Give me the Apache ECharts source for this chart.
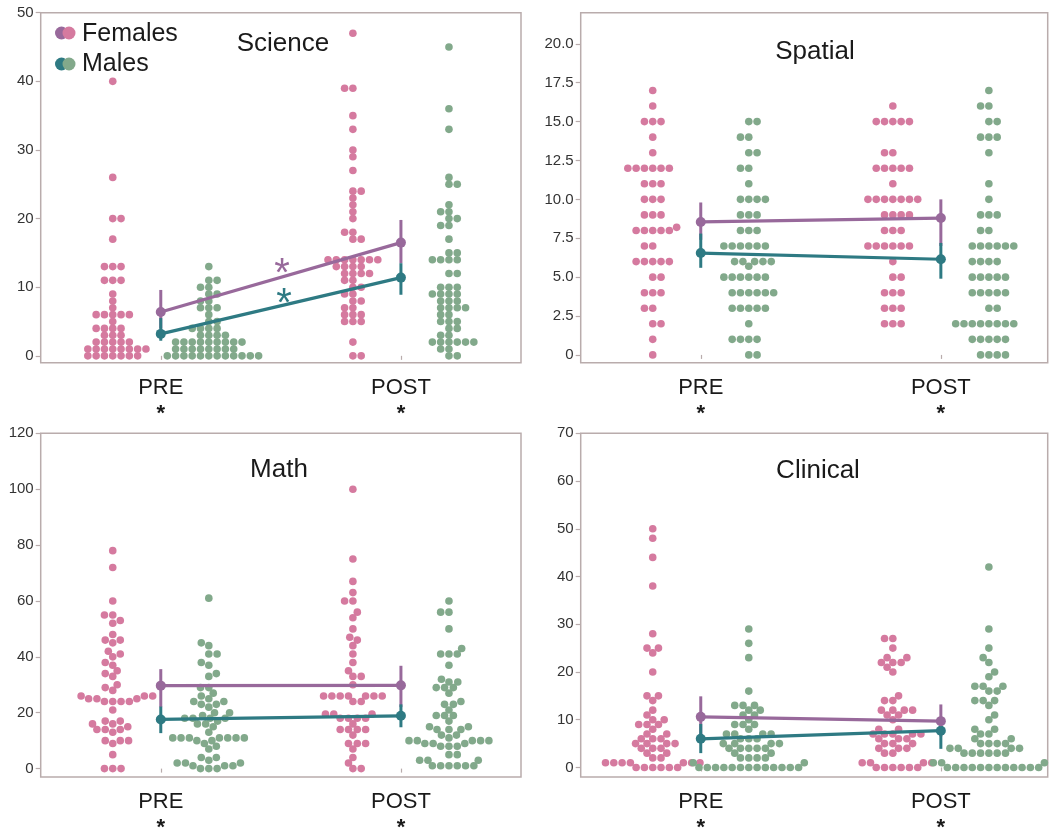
<!DOCTYPE html>
<html><head><meta charset="utf-8">
<script src="https://cdn.jsdelivr.net/npm/echarts@6/dist/echarts.min.js"></script>
<style>html,body{margin:0;padding:0;background:#fff}#c{width:1049px;height:839px}</style>
</head><body><div id="c"></div>
<script>
// ---------- DATA ----------
const timeLabels = ['PRE', 'POST'];
const panelTitles = ['Science', 'Spatial', 'Math', 'Clinical'];
const yMinVals = [-1, -0.5, -3, -2];
const yMaxVals = [50, 22, 120, 70];
const yTickVals = [
  [0, 10, 20, 30, 40, 50],
  [0, 2.5, 5, 7.5, 10, 12.5, 15, 17.5, 20],
  [0, 20, 40, 60, 80, 100, 120],
  [0, 10, 20, 30, 40, 50, 60, 70]
];

// Science
const sciFemPre = [40,26,20,20,17,13,13,13,11,11,11,9,8,7,6,6,6,6,6,5,4,4,4,4,3,3,3,2,2,2,2,2,1,1,1,1,1,1,1,1,0,0,0,0,0,0,0];
const sciMalePre = [13,11,11,10,10,9,9,8,8,7,7,7,6,5,5,4,4,4,4,3,3,3,3,2,2,2,2,2,2,2,2,2,1,1,1,1,1,1,1,1,0,0,0,0,0,0,0,0,0,0,0,0];
const sciFemPost = [47,39,39,35,33,30,29,27,24,24,23,22,21,20,18,18,17,17,14,14,14,14,14,14,14,13,13,13,13,12,12,12,12,11,11,10,10,9,9,8,8,7,7,6,6,6,5,5,5,2,0,0];
const sciMalePost = [45,36,33,26,25,25,22,21,21,20,20,19,19,17,15,15,14,14,14,14,12,12,10,10,10,9,9,9,9,8,8,8,7,7,7,7,6,6,5,5,5,4,4,3,3,2,2,2,2,2,2,1,1,0,0];
// Spatial
const spaFemPre = [17,16,15,15,15,14,13,12,12,12,12,12,12,11,11,11,10,10,10,9,9,9,8.2,8,8,8,8,8,7,7,6,6,6,6,6,5,5,4,4,4,3,3,2,2,1,0];
const spaMalePre = [15,15,14,14,13,13,12,12,11,10,10,10,10,9,9,9,8,8,8,7,7,7,7,7,7,6,6,6,6,6,5.7,5,5,5,5,5,5,4,4,4,4,4,4,3,3,3,3,3,2,1,1,1,1,0,0];
const spaFemPost = [16,15,15,15,15,15,13,13,12,12,12,12,12,11,10,10,10,10,10,10,10,9,9,9,9,8,8,8,7,7,7,7,7,7,6,5,5,4,4,4,3,3,3,2,2,2];
const spaMalePost = [17,16,16,15,15,14,14,14,13,11,10,9,9,9,8,8,7,7,7,7,7,7,6,6,6,6,5,5,5,5,5,4,4,4,4,4,3,3,2,2,2,2,2,2,2,2,1,1,1,1,1,0,0,0,0];
// Math
const mathFemPre = [78,72,60,55,55,53,52,48,46,46,45,42,41,40,38,37,35,34,33,30,29,28,26,26,26,25,25,25,24,24,24,24,21,17,17,16,16,15,14,14,14,13,10,10,10,9,5,0,0,0];
const mathMalePre = [61,45,44,41,41,38,37,34,33,29,29,27,26,25,24,24,23,23,22,20,20,19,18,18,18,18,17,16,16,15,13,11,11,11,11,11,11,11,10,10,9,8,7,4,4,3,2,2,2,1,1,1,0,0,0];
const mathFemPost = [100,75,67,63,60,60,56,54,50,47,46,44,41,38,35,33,33,30,26,26,26,26,26,26,26,24,24,19.5,19.5,19.5,18,18,18,18,16,14,14,14,14,12,9,9,9,7,4,2,0,0];
const mathMalePost = [60,56,56,50,43,41,41,41,37,32,31,31,29,29,29,27,24,23,23,21,19,19,19,17,15,15,14,14,14,12,12,11,10,10,10,10,10,9,9,9,8,8,8,5,5,3,3,3,1,1,1,1,1,1];
// Clinical
const clinFemPre = [50,48,44,38,28,25,25,24,20,15,15,14,12,11,10,10,9,9,9,8,7,7,6,6,6,5,5,5,5,4,4,4,3,3,2,2,1,1,1,1,1,1,1,0,0,0,0,0,0];
const clinMalePre = [29,26,23,16,13,13,13,12,12,11,11,10,9,9,9,8,7,7,7,7,6,6,6,5,5,5,5,4,4,4,4,4,3,3,2,2,2,2,1,1,0,0,0,0,0,0,0,0,0,0,0,0,0];
const clinFemPost = [27,27,25,23,23,22,22,22,21,20,15,14,14,12,12,12,12,11,11,10,8,8,7,7,7,7,7,6,6,6,5,5,5,4,4,4,3,3,1,1,1,1,0,0,0,0,0,0];
const clinMalePost = [42,29,25,23,22,20,19,17,17,17,16,16,14,14,14,13,11,10,8,8,7,7,6,6,5,5,5,5,4,4,4,4,3,3,3,3,3,3,1,1,1,1,0,0,0,0,0,0,0,0,0,0,0,0];

// means [PRE, POST]
const femMeans = [[6.4, 16.5], [8.55, 8.8], [29.7, 29.8], [10.6, 9.7]];
const maleMeans = [[3.2, 11.4], [6.55, 6.15], [17.6, 18.9], [6.0, 7.7]];
// confidence intervals [[lo,hi] PRE, [lo,hi] POST]
const femCI = [[[4, 9.6], [13.5, 19.8]], [[7.4, 9.8], [7.0, 10.0]], [[22, 35.6], [22, 36.8]], [[7, 14.9], [6.5, 13.2]]];
const maleCI = [[[2.2, 5.5], [8.9, 13.5]], [[5.6, 7.8], [4.9, 7.2]], [[12.7, 22.2], [14.8, 23]], [[3.0, 9.1], [3.9, 8.7]]];

const femPoints = [[sciFemPre, sciFemPost], [spaFemPre, spaFemPost], [mathFemPre, mathFemPost], [clinFemPre, clinFemPost]];
const malePoints = [[sciMalePre, sciMalePost], [spaMalePre, spaMalePost], [mathMalePre, mathMalePost], [clinMalePre, clinMalePost]];

// ---------- STYLE ----------
const FEM_DOT = '#d57a9f', MALE_DOT = '#82a98b', FEM_LINE = '#98699b', MALE_LINE = '#2e7a83';
const FONT = '"Liberation Sans", Arial, sans-serif';
const BORDER = '#b9acac';
const grids = [
  { left: 40.7, top: 12.7, width: 480.3, height: 350 },
  { left: 580.7, top: 12.7, width: 467, height: 350 },
  { left: 40.7, top: 433.3, width: 480.3, height: 350.7 },
  { left: 580.7, top: 433.3, width: 467, height: 350.7 }
];
const xMaxVals = [4, 3.89, 4, 3.89];
const xPos = [1, 3];
const sideOffset = 0.4;

const chart = echarts.init(document.getElementById('c'), null, { renderer: 'canvas' });

const xAxes = grids.map((g, i) => ({
  type: 'value', gridIndex: i, min: 0, max: xMaxVals[i],
  axisLine: { show: false }, splitLine: { show: false },
  axisTick: { show: true, customValues: xPos, length: 4, lineStyle: { color: BORDER, width: 1.2 } },
  axisLabel: {
    customValues: xPos, margin: 12,
    formatter: v => '{a|' + (v === 1 ? timeLabels[0] : timeLabels[1]) + '}\n{b|*}',
    rich: {
      a: { fontFamily: FONT, fontSize: 22, color: '#1a1a1a', lineHeight: 26 },
      b: { fontFamily: FONT, fontSize: 22, color: '#1a1a1a', lineHeight: 26, fontWeight: 'bold' }
    }
  }
}));
const yAxes = grids.map((g, i) => ({
  type: 'value', gridIndex: i, min: yMinVals[i], max: yMaxVals[i],
  axisLine: { show: false }, splitLine: { show: false },
  axisTick: { show: true, customValues: yTickVals[i], length: 5, lineStyle: { color: BORDER, width: 1.2 } },
  axisLabel: {
    customValues: yTickVals[i], margin: 7, fontFamily: FONT, fontSize: 15, color: '#333',
    formatter: v => (i === 1 && v !== 0) ? v.toFixed(1) : String(v)
  }
}));

const titlePos = [[283, 44], [815, 52], [279, 470], [818, 471]];
const graphics = titlePos.map((p, i) => ({
  type: 'text', x: p[0], y: p[1], z: 10,
  style: { text: panelTitles[i], font: '26px ' + FONT, fill: '#1a1a1a', textAlign: 'center', textVerticalAlign: 'middle' }
}));
// legend
graphics.push(
  { type: 'circle', shape: { cx: 61.5, cy: 33, r: 6.5 }, style: { fill: FEM_LINE } },
  { type: 'circle', shape: { cx: 69, cy: 33, r: 6.5 }, style: { fill: FEM_DOT } },
  { type: 'circle', shape: { cx: 61.5, cy: 64, r: 6.5 }, style: { fill: MALE_LINE } },
  { type: 'circle', shape: { cx: 69, cy: 64, r: 6.5 }, style: { fill: MALE_DOT } },
  { type: 'text', x: 82, y: 34, style: { text: 'Females', font: '25px ' + FONT, fill: '#1a1a1a', textVerticalAlign: 'middle' } },
  { type: 'text', x: 82, y: 64, style: { text: 'Males', font: '25px ' + FONT, fill: '#1a1a1a', textVerticalAlign: 'middle' } },
  { type: 'text', x: 282, y: 275, z: 10, style: { text: '*', font: '40px ' + FONT, fill: FEM_LINE, textAlign: 'center', textVerticalAlign: 'middle' } },
  { type: 'text', x: 284, y: 305, z: 10, style: { text: '*', font: '40px ' + FONT, fill: MALE_LINE, textAlign: 'center', textVerticalAlign: 'middle' } }
);

chart.setOption({
  animation: false,
  backgroundColor: '#fff',
  grid: grids.map(g => Object.assign({ show: true, borderColor: BORDER, borderWidth: 1.5, backgroundColor: 'transparent' }, g)),
  xAxis: xAxes, yAxis: yAxes,
  graphic: graphics,
  series: grids.map((g, i) => ({ type: 'scatter', xAxisIndex: i, yAxisIndex: i, data: [] }))
});

// beeswarm layout (elliptical collision) computed in pixel space via the chart's own scales
const DX = 8.3, DY = 6.6;
function swarm(values, gi, cx) {
  const pxPerX = chart.convertToPixel({ gridIndex: gi }, [1, 0])[0] - chart.convertToPixel({ gridIndex: gi }, [0, 0])[0];
  const pts = values.map((v, k) => ({ v, k, py: chart.convertToPixel({ gridIndex: gi }, [cx, v])[1] }));
  const sorted = pts.slice().sort((a, b) => (a.v - b.v) || (a.k - b.k));
  const placed = [];
  let lastSign = -1;
  sorted.forEach(p => {
    const cands = [0];
    placed.forEach(q => {
      const dy = Math.abs(p.py - q.py);
      if (dy < DY) { const w = DX * Math.sqrt(1 - (dy / DY) * (dy / DY)); cands.push(q.x - w, q.x + w); }
    });
    const valid = cands.filter(c => placed.every(q => {
      const a = (c - q.x) / DX, b = (p.py - q.py) / DY;
      return a * a + b * b >= 1 - 1e-4;
    }));
    valid.sort((a, b) => Math.abs(a) - Math.abs(b));
    let best = valid[0];
    const ties = valid.filter(c => Math.abs(Math.abs(c) - Math.abs(best)) < 0.05);
    if (ties.length > 1) {
      const pick = ties.find(c => Math.sign(c) === -lastSign);
      if (pick !== undefined) best = pick;
    }
    if (Math.abs(best) > 0.01) lastSign = Math.sign(best);
    p.x = best;
    placed.push(p);
  });
  return pts.map(p => [cx + p.x / pxPerX, p.v]);
}

const series = [];
for (let i = 0; i < 4; i++) {
  const fData = [], mData = [];
  for (let t = 0; t < 2; t++) {
    fData.push(...swarm(femPoints[i][t], i, xPos[t] - sideOffset));
    mData.push(...swarm(malePoints[i][t], i, xPos[t] + sideOffset));
  }
  series.push({ type: 'scatter', xAxisIndex: i, yAxisIndex: i, data: fData, symbolSize: 7.6, itemStyle: { color: FEM_DOT, opacity: 1 }, silent: true, z: 2 });
  series.push({ type: 'scatter', xAxisIndex: i, yAxisIndex: i, data: mData, symbolSize: 7.6, itemStyle: { color: MALE_DOT, opacity: 1 }, silent: true, z: 2 });
  const ciSeries = (ci, color, z) => ({
    type: 'custom', xAxisIndex: i, yAxisIndex: i, z,
    data: ci.map((r, t) => [xPos[t], r[0], r[1]]),
    encode: { x: 0, y: [1, 2] },
    renderItem: (params, api) => {
      const a = api.coord([api.value(0), api.value(1)]);
      const b = api.coord([api.value(0), api.value(2)]);
      return { type: 'line', shape: { x1: a[0], y1: a[1], x2: b[0], y2: b[1] }, style: { stroke: color, lineWidth: 3 } };
    }
  });
  series.push(ciSeries(femCI[i], FEM_LINE, 3));
  series.push(ciSeries(maleCI[i], MALE_LINE, 4));
  series.push({ type: 'line', xAxisIndex: i, yAxisIndex: i, z: 5, data: xPos.map((x, t) => [x, maleMeans[i][t]]), symbol: 'circle', symbolSize: 10, lineStyle: { color: MALE_LINE, width: 3.2 }, itemStyle: { color: MALE_LINE }, silent: true });
  series.push({ type: 'line', xAxisIndex: i, yAxisIndex: i, z: 6, data: xPos.map((x, t) => [x, femMeans[i][t]]), symbol: 'circle', symbolSize: 10, lineStyle: { color: FEM_LINE, width: 3.2 }, itemStyle: { color: FEM_LINE }, silent: true });
}
chart.setOption({ series: series }, { replaceMerge: ['series'] });
</script>
</body></html>
